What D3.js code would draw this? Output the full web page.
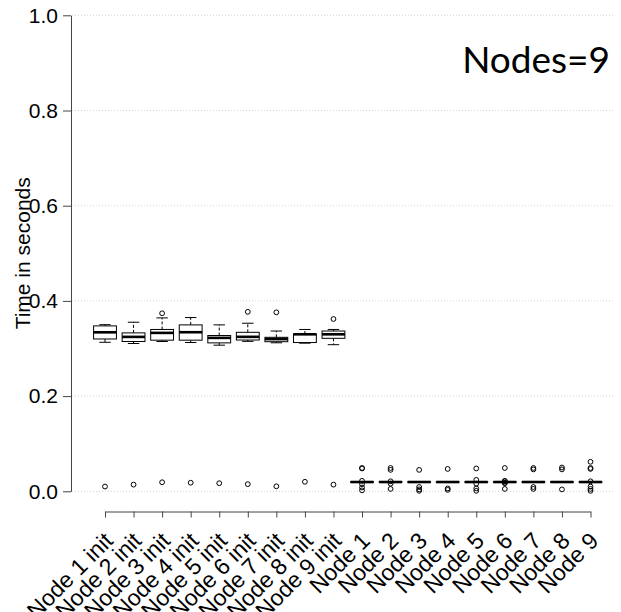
<!DOCTYPE html>
<html>
<head>
<meta charset="utf-8">
<script src="https://cdn.jsdelivr.net/npm/d3@7"></script>
<style>
  html, body { margin: 0; padding: 0; background: #fff; }
  svg { display: block; }
</style>
</head>
<body>
<svg id="chart" width="621" height="612"></svg>
<script>
// Box statistics per category (seconds)
const categories = ["Node 1 init", "Node 2 init", "Node 3 init", "Node 4 init", "Node 5 init",
  "Node 6 init", "Node 7 init", "Node 8 init", "Node 9 init",
  "Node 1", "Node 2", "Node 3", "Node 4", "Node 5", "Node 6", "Node 7", "Node 8", "Node 9"];
const whiskerLow  = [0.313, 0.3105, 0.3147, 0.3126, 0.307, 0.315, 0.312, 0.3112, 0.308,
  0.019, 0.019, 0.019, 0.019, 0.019, 0.019, 0.019, 0.019, 0.019];
const q1          = [0.320, 0.3147, 0.3175, 0.3175, 0.3118, 0.3178, 0.3143, 0.3125, 0.3214,
  0.019, 0.019, 0.019, 0.019, 0.019, 0.019, 0.019, 0.019, 0.019];
const median      = [0.334, 0.3244, 0.3328, 0.3342, 0.3223, 0.3245, 0.3198, 0.3298, 0.3298,
  0.0195, 0.0195, 0.0195, 0.0195, 0.0195, 0.0195, 0.0195, 0.0195, 0.0195];
const q3          = [0.3475, 0.3328, 0.340, 0.3496, 0.3273, 0.334, 0.3235, 0.3305, 0.3367,
  0.020, 0.020, 0.020, 0.020, 0.020, 0.020, 0.020, 0.020, 0.020];
const whiskerHigh = [0.350, 0.3552, 0.3643, 0.365, 0.3496, 0.3531, 0.3367, 0.340, 0.340,
  0.020, 0.020, 0.020, 0.020, 0.020, 0.020, 0.020, 0.020, 0.020];
const outliers = [
  [0.010], [0.014], [0.374, 0.019], [0.018], [0.017], [0.377, 0.015], [0.376, 0.0105], [0.020], [0.362, 0.014],
  [0.048, 0.049, 0.022, 0.015, 0.008, 0.002],
  [0.049, 0.045, 0.021, 0.016, 0.005],
  [0.045, 0.009, 0.004, 0.001],
  [0.047, 0.006, 0.003],
  [0.048, 0.024, 0.016, 0.006, 0.001],
  [0.049, 0.022, 0.021, 0.018, 0.017, 0.005],
  [0.049, 0.046, 0.009, 0.005],
  [0.050, 0.046, 0.004],
  [0.062, 0.049, 0.047, 0.021, 0.010, 0.005, 0.001]
];
const yTicks = [0.0, 0.2, 0.4, 0.6, 0.8, 1.0];
const titleText = "Nodes=9";
const yTitle = "Time in seconds";

const svg = d3.select("#chart");
const font = "'Liberation Sans', Arial, Helvetica, sans-serif";

const x = d3.scalePoint().domain(categories).range([105, 590.5]);
const y = d3.scaleLinear().domain([0, 1]).range([491.3, 15.3]);
const step = x.step();
const boxW = step * 0.8;

// dotted horizontal grid
svg.append("g").selectAll("line").data(yTicks).join("line")
  .attr("x1", 72).attr("x2", 613)
  .attr("y1", d => y(d)).attr("y2", d => y(d))
  .attr("stroke", "#d4d4d4").attr("stroke-width", 1)
  .attr("stroke-dasharray", "1,2");

// y axis
const yAxis = svg.append("g").attr("transform", "translate(71,0)")
  .call(d3.axisLeft(y).tickValues(yTicks).tickFormat(d3.format(".1f"))
    .tickSize(8).tickSizeOuter(0).tickPadding(5));
yAxis.selectAll("path, line").attr("stroke", "#444");
yAxis.selectAll("text").attr("font-family", font).attr("font-size", 21).attr("fill", "#000");

// x axis
const xAxis = svg.append("g").attr("transform", "translate(0,511.5)")
  .call(d3.axisBottom(x).tickSize(6).tickSizeOuter(0).tickFormat(""));
xAxis.selectAll("path, line").attr("stroke", "#444");

svg.append("g").selectAll("text").data(categories).join("text")
  .attr("transform", d => `translate(${x(d) + 5},538) rotate(-45)`)
  .attr("text-anchor", "end")
  .attr("dominant-baseline", "middle")
  .attr("font-family", font).attr("font-size", 23).attr("fill", "#000")
  .text(d => d);

// y axis title
svg.append("text")
  .attr("transform", `translate(30,${(y(0) + y(1)) / 2}) rotate(-90)`)
  .attr("text-anchor", "middle")
  .attr("font-family", font).attr("font-size", 21).attr("fill", "#000")
  .text(yTitle);

// boxes
const boxes = svg.append("g").selectAll("g").data(categories).join("g");
const i = (d) => categories.indexOf(d);

// whiskers (dashed)
boxes.append("line")
  .attr("x1", d => x(d)).attr("x2", d => x(d))
  .attr("y1", d => y(q3[i(d)])).attr("y2", d => y(whiskerHigh[i(d)]))
  .attr("stroke", "#000").attr("stroke-width", 1).attr("stroke-dasharray", "3,2");
boxes.append("line")
  .attr("x1", d => x(d)).attr("x2", d => x(d))
  .attr("y1", d => y(q1[i(d)])).attr("y2", d => y(whiskerLow[i(d)]))
  .attr("stroke", "#000").attr("stroke-width", 1).attr("stroke-dasharray", "3,2");
// whisker caps
boxes.append("line")
  .attr("x1", d => x(d) - boxW / 4).attr("x2", d => x(d) + boxW / 4)
  .attr("y1", d => y(whiskerHigh[i(d)])).attr("y2", d => y(whiskerHigh[i(d)]))
  .attr("stroke", "#000").attr("stroke-width", 1);
boxes.append("line")
  .attr("x1", d => x(d) - boxW / 4).attr("x2", d => x(d) + boxW / 4)
  .attr("y1", d => y(whiskerLow[i(d)])).attr("y2", d => y(whiskerLow[i(d)]))
  .attr("stroke", "#000").attr("stroke-width", 1);
// IQR box
boxes.append("rect")
  .attr("x", d => x(d) - boxW / 2).attr("width", boxW)
  .attr("y", d => y(q3[i(d)]))
  .attr("height", d => Math.max(0, y(q1[i(d)]) - y(q3[i(d)])))
  .attr("fill", "#fff").attr("stroke", "#000").attr("stroke-width", 1);
// median
boxes.append("line")
  .attr("x1", d => x(d) - boxW / 2).attr("x2", d => x(d) + boxW / 2)
  .attr("y1", d => y(median[i(d)])).attr("y2", d => y(median[i(d)]))
  .attr("stroke", "#000").attr("stroke-width", 2.6);
// outliers
boxes.selectAll("circle").data(d => outliers[i(d)].map(v => ({ c: d, v }))).join("circle")
  .attr("cx", o => x(o.c)).attr("cy", o => y(o.v)).attr("r", 2.4)
  .attr("fill", "none").attr("stroke", "#000").attr("stroke-width", 1);

// title
svg.append("text")
  .attr("x", 610).attr("y", 73)
  .attr("text-anchor", "end")
  .attr("font-family", "Lato, 'Open Sans', sans-serif").attr("font-size", 37).attr("fill", "#000")
  .text(titleText);
</script>
</body>
</html>
